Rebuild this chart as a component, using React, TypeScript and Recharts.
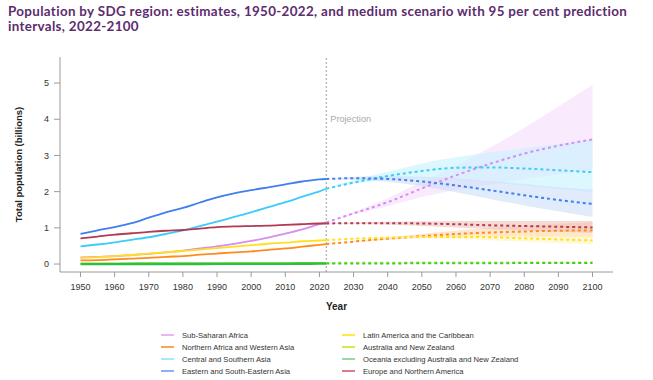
import React from 'react';
import { ComposedChart, Line, Area, XAxis, YAxis, ReferenceLine } from 'recharts';

// estimates, 1950-2022 (billions)
const histYears = [1950, 1955, 1960, 1965, 1970, 1975, 1980, 1985, 1990, 1995, 2000, 2005, 2010, 2015, 2020, 2022];
const ssaHist = [0.18, 0.2, 0.22, 0.25, 0.28, 0.32, 0.37, 0.43, 0.49, 0.56, 0.64, 0.73, 0.84, 0.96, 1.1, 1.15];
const nawaHist = [0.1, 0.11, 0.13, 0.15, 0.17, 0.2, 0.22, 0.26, 0.29, 0.32, 0.35, 0.39, 0.43, 0.48, 0.53, 0.55];
const csaHist = [0.49, 0.54, 0.6, 0.67, 0.74, 0.83, 0.93, 1.05, 1.17, 1.3, 1.43, 1.57, 1.71, 1.86, 2.01, 2.08];
const eseaHist = [0.83, 0.93, 1.02, 1.13, 1.28, 1.43, 1.55, 1.7, 1.84, 1.95, 2.04, 2.12, 2.2, 2.28, 2.34, 2.35];
const lacHist = [0.17, 0.19, 0.22, 0.25, 0.29, 0.32, 0.36, 0.4, 0.44, 0.48, 0.52, 0.56, 0.59, 0.63, 0.65, 0.66];
const anzHist = [0.01, 0.011, 0.012, 0.014, 0.015, 0.016, 0.018, 0.019, 0.02, 0.022, 0.023, 0.025, 0.027, 0.029, 0.031, 0.031];
const oceHist = [0.002, 0.003, 0.003, 0.004, 0.004, 0.004, 0.005, 0.005, 0.006, 0.007, 0.008, 0.009, 0.01, 0.011, 0.013, 0.013];
const enaHist = [0.71, 0.76, 0.81, 0.85, 0.89, 0.92, 0.94, 0.98, 1.02, 1.04, 1.05, 1.06, 1.08, 1.1, 1.12, 1.12];

// medium scenario + 95% intervals, 2022-2100
const projYears = [2022, 2030, 2040, 2050, 2060, 2070, 2080, 2090, 2100];
const ssaProj = [1.15, 1.4, 1.71, 2.09, 2.45, 2.77, 3.05, 3.27, 3.44];
const ssaLow = [1.15, 1.37, 1.6, 1.85, 2.05, 2.2, 2.35, 2.48, 2.6];
const ssaHigh = [1.15, 1.43, 1.82, 2.27, 2.72, 3.22, 3.76, 4.35, 4.95];
const nawaProj = [0.55, 0.62, 0.7, 0.77, 0.83, 0.87, 0.9, 0.92, 0.93];
const nawaLow = [0.55, 0.61, 0.67, 0.72, 0.75, 0.76, 0.76, 0.75, 0.74];
const nawaHigh = [0.55, 0.63, 0.73, 0.83, 0.92, 1.0, 1.06, 1.11, 1.16];
const csaProj = [2.08, 2.25, 2.43, 2.57, 2.66, 2.67, 2.64, 2.59, 2.54];
const csaLow = [2.08, 2.22, 2.33, 2.37, 2.33, 2.25, 2.17, 2.08, 1.98];
const csaHigh = [2.08, 2.32, 2.55, 2.78, 2.95, 3.08, 3.2, 3.32, 3.45];
const eseaProj = [2.35, 2.37, 2.35, 2.28, 2.17, 2.04, 1.9, 1.77, 1.66];
const eseaLow = [2.35, 2.33, 2.27, 2.15, 1.98, 1.8, 1.62, 1.46, 1.3];
const eseaHigh = [2.35, 2.41, 2.43, 2.41, 2.36, 2.29, 2.21, 2.12, 2.05];
const lacProj = [0.66, 0.7, 0.73, 0.75, 0.75, 0.74, 0.71, 0.68, 0.65];
const lacLow = [0.66, 0.69, 0.71, 0.71, 0.69, 0.66, 0.62, 0.58, 0.54];
const lacHigh = [0.66, 0.71, 0.75, 0.79, 0.81, 0.82, 0.81, 0.8, 0.78];
const anzProj = [0.031, 0.034, 0.037, 0.04, 0.042, 0.043, 0.044, 0.045, 0.046];
const oceProj = [0.013, 0.015, 0.017, 0.02, 0.022, 0.024, 0.026, 0.028, 0.03];
const enaProj = [1.12, 1.13, 1.13, 1.12, 1.1, 1.07, 1.05, 1.03, 1.01];
const enaLow = [1.12, 1.11, 1.09, 1.05, 1.01, 0.97, 0.93, 0.89, 0.86];
const enaHigh = [1.12, 1.15, 1.17, 1.18, 1.19, 1.19, 1.19, 1.19, 1.19];

const xTicks = [1950, 1960, 1970, 1980, 1990, 2000, 2010, 2020, 2030, 2040, 2050, 2060, 2070, 2080, 2090, 2100];
const yTicks = [0, 1, 2, 3, 4, 5];

const regions = [
  { key: 'ssa', name: 'Sub-Saharan Africa', hist: ssaHist, proj: ssaProj, low: ssaLow, high: ssaHigh, color: '#D98CF2', band: '#F5DDFC', op: 0.6, legend: '#EDB4FA' },
  { key: 'nawa', name: 'Northern Africa and Western Asia', hist: nawaHist, proj: nawaProj, low: nawaLow, high: nawaHigh, color: '#FF8A1E', band: '#FFD2A6', op: 0.55, legend: '#FFA55A' },
  { key: 'csa', name: 'Central and Southern Asia', hist: csaHist, proj: csaProj, low: csaLow, high: csaHigh, color: '#3CCBFA', band: '#C6F1FF', op: 0.6, legend: '#A6E8FC' },
  { key: 'esea', name: 'Eastern and South-Eastern Asia', hist: eseaHist, proj: eseaProj, low: eseaLow, high: eseaHigh, color: '#3F7FEF', band: '#CCDDF9', op: 0.6, legend: '#8DB0F2' },
  { key: 'lac', name: 'Latin America and the Caribbean', hist: lacHist, proj: lacProj, low: lacLow, high: lacHigh, color: '#FFE01E', band: '#FFF3B0', op: 0.55, legend: '#FFE84A' },
  { key: 'anz', name: 'Australia and New Zealand', hist: anzHist, proj: anzProj, color: '#B9EE2E', legend: '#C8F04A' },
  { key: 'oce', name: 'Oceania excluding Australia and New Zealand', hist: oceHist, proj: oceProj, color: '#2EBF3E', legend: '#94DCA6' },
  { key: 'ena', name: 'Europe and Northern America', hist: enaHist, proj: enaProj, low: enaLow, high: enaHigh, color: '#B23A52', band: '#EDBDB4', op: 0.55, legend: '#E07A88' },
];

const allYears = Array.from(new Set([...histYears, ...projYears])).sort((a, b) => a - b);
const data = allYears.map((year) => {
  const row: any = { year };
  const hi = histYears.indexOf(year);
  const pi = projYears.indexOf(year);
  regions.forEach((r) => {
    if (hi >= 0) row[r.key + 'H'] = r.hist[hi];
    if (pi >= 0) {
      row[r.key + 'P'] = r.proj[pi];
      if (r.low && r.high) row[r.key + 'B'] = [r.low[pi], r.high[pi]];
    }
  });
  return row;
});

const font = '"Liberation Sans", Arial, sans-serif';

const ProjectionLabel = (props: any) => {
  const { viewBox } = props;
  return (
    <text x={viewBox.x + 4} y={122} fill="#ABABAB" fontSize={9.2} fontFamily={font}>
      Projection
    </text>
  );
};

export default function App() {
  const leftCol = regions.slice(0, 4);
  const rightCol = regions.slice(4);
  const legendItem = (r: any) => (
    <div key={r.key} style={{ display: 'flex', alignItems: 'center', height: 12 }}>
      <div style={{ width: 13, height: 2, background: r.legend, marginRight: 8 }} />
      <span style={{ fontSize: 7.6, color: '#333', whiteSpace: 'nowrap' }}>{r.name}</span>
    </div>
  );

  return (
    <div style={{ position: 'absolute', left: 0, top: 0, width: 653, height: 380, background: '#fff', fontFamily: font }}>
      <div
        style={{
          position: 'absolute',
          left: 8,
          top: 4,
          width: 640,
          fontFamily: 'Lato, sans-serif',
          fontWeight: 700,
          fontSize: 13.4,
          letterSpacing: 0.33,
          lineHeight: '15px',
          color: '#5C2C6E',
        }}
      >
        Population by SDG region: estimates, 1950-2022, and medium scenario with 95 per cent prediction intervals, 2022-2100
      </div>

      <div style={{ position: 'absolute', left: 0, top: 0 }}>
        <ComposedChart width={653} height={320} data={data} margin={{ top: 57, right: 40, left: 0, bottom: 6 }}>
          <XAxis
            dataKey="year"
            type="number"
            domain={[1944, 2106]}
            ticks={xTicks}
            interval={0}
            stroke="#9A9A9A"
            tickSize={5}
            tickMargin={7}
            tick={{ fontSize: 9, fill: '#333', fontFamily: font }}
            height={42}
            label={{ value: 'Year', position: 'insideBottom', offset: 4, fontSize: 10, fontWeight: 700, fill: '#222', fontFamily: font }}
          />
          <YAxis
            type="number"
            domain={[-0.22, 5.72]}
            ticks={yTicks}
            interval={0}
            stroke="#9A9A9A"
            tickSize={6}
            tickMargin={5}
            width={60}
            tick={{ fontSize: 9, fill: '#333', fontFamily: font }}
            label={{ value: 'Total population (billions)', angle: -90, position: 'insideLeft', offset: 19, fontSize: 9.5, fontWeight: 700, fill: '#222', fontFamily: font, style: { textAnchor: 'middle' } }}
          />
          {regions
            .filter((r) => r.low)
            .map((r) => (
              <Area
                key={r.key + 'B'}
                dataKey={r.key + 'B'}
                type="monotone"
                stroke="none"
                fill={r.band}
                fillOpacity={r.op}
                isAnimationActive={false}
                activeDot={false}
              />
            ))}
          <ReferenceLine x={2022} stroke="#9A9A9A" strokeDasharray="2 2" label={<ProjectionLabel />} />
          {regions.map((r) => (
            <Line
              key={r.key + 'H'}
              dataKey={r.key + 'H'}
              type="monotone"
              stroke={r.color}
              strokeWidth={r.key === 'oce' ? 2.6 : 1.8}
              dot={false}
              isAnimationActive={false}
            />
          ))}
          {regions.map((r) => (
            <Line
              key={r.key + 'P'}
              dataKey={r.key + 'P'}
              type="monotone"
              stroke={r.key === 'oce' ? '#3BCF2E' : r.color}
              strokeWidth={2}
              strokeDasharray="3 3"
              dot={false}
              isAnimationActive={false}
            />
          ))}
        </ComposedChart>
      </div>

      <div style={{ position: 'absolute', left: 161, top: 329 }}>{leftCol.map(legendItem)}</div>
      <div style={{ position: 'absolute', left: 342, top: 329 }}>{rightCol.map(legendItem)}</div>
    </div>
  );
}
